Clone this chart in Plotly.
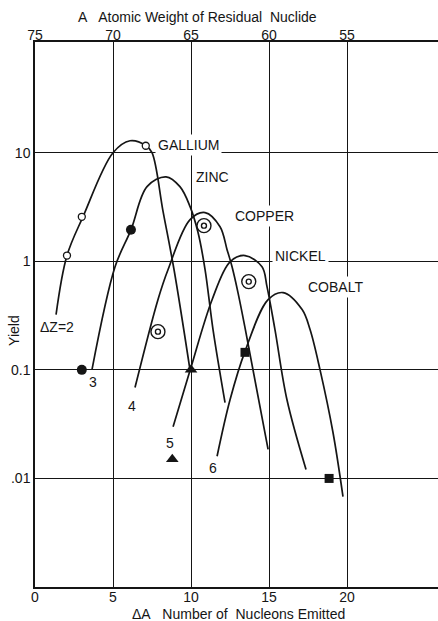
import math
import plotly.graph_objects as go

# ---- data (ΔA, yield) ----
gallium_x = [1.35, 2.05, 3.08, 5.0, 6.09, 7.12, 7.5, 8.21, 8.91, 9.94]
gallium_y = [0.323, 1.13, 2.58, 10.0, 12.9, 11.6, 10.0, 2.87, 0.84, 0.099]

zinc_x = [3.65, 5.13, 6.15, 7.18, 8.4, 9.29, 9.94, 10.45, 10.9, 11.41, 12.18]
zinc_y = [0.10, 0.89, 1.95, 4.87, 6.0, 4.87, 3.19, 1.84, 0.84, 0.235, 0.05]

copper_x = [6.41, 7.88, 8.53, 9.94, 10.9, 11.86, 12.31, 12.63, 13.01, 13.46, 14.94]
copper_y = [0.0687, 0.443, 0.84, 2.42, 2.81, 2.08, 1.28, 0.89, 0.515, 0.245, 0.0185]

nickel_x = [8.85, 9.94, 11.35, 12.5, 13.46, 14.55, 14.87, 15.38, 16.15, 17.37]
nickel_y = [0.030, 0.099, 0.443, 0.99, 1.13, 0.89, 0.585, 0.235, 0.053, 0.0121]

cobalt_x = [11.67, 12.5, 13.46, 14.94, 15.9, 17.12, 17.63, 18.27, 19.1, 19.74]
cobalt_y = [0.016, 0.053, 0.148, 0.443, 0.515, 0.359, 0.235, 0.10, 0.0265, 0.0068]

open_circle_x = [2.05, 3.0, 7.1]
open_circle_y = [1.13, 2.57, 11.6]
filled_circle_x = [3.0, 6.15]
filled_circle_y = [0.10, 1.95]
ringed_circle_x = [7.88, 10.83, 13.7]
ringed_circle_y = [0.225, 2.13, 0.65]
triangle_x = [10.0, 8.8]
triangle_y = [0.10, 0.015]
square_x = [13.46, 18.85]
square_y = [0.145, 0.010]

curve_names = ["GALLIUM", "ZINC", "COPPER", "NICKEL", "COBALT"]
curve_label_x = [7.69, 10.13, 12.63, 15.19, 17.31]
curve_label_y = [11.85, 6.0, 2.63, 1.13, 0.585]

dz_labels = ["\u0394Z=2", "3", "4", "5", "6"]
dz_label_x = [0.19, 3.72, 6.22, 8.65, 11.41]
dz_label_y = [0.25, 0.078, 0.046, 0.0214, 0.0126]
dz_anchor = ["left", "center", "center", "center", "center"]

bottom_ticks = [0, 5, 10, 15, 20]
top_ticks = [75, 70, 65, 60, 55]
y_ticks = [0.01, 0.1, 1, 10]
y_ticktext = [".01", "0.1", "1", "10"]

INK = "#151515"
FONT = "Liberation Sans"

fig = go.Figure()

for xs, ys in [(gallium_x, gallium_y), (zinc_x, zinc_y), (copper_x, copper_y),
               (nickel_x, nickel_y), (cobalt_x, cobalt_y)]:
    fig.add_trace(go.Scatter(x=xs, y=ys, mode="lines",
                             line=dict(color=INK, width=1.7, shape="spline", smoothing=1.0),
                             hoverinfo="skip", showlegend=False))

fig.add_trace(go.Scatter(x=open_circle_x, y=open_circle_y, mode="markers",
                         marker=dict(symbol="circle", size=7, color="white",
                                     line=dict(color=INK, width=1.3)),
                         showlegend=False))
fig.add_trace(go.Scatter(x=filled_circle_x, y=filled_circle_y, mode="markers",
                         marker=dict(symbol="circle", size=10, color=INK,
                                     line=dict(color=INK, width=0)),
                         showlegend=False))
fig.add_trace(go.Scatter(x=ringed_circle_x, y=ringed_circle_y, mode="markers",
                         marker=dict(symbol="circle", size=14, color="white",
                                     line=dict(color=INK, width=1.4)),
                         showlegend=False))
fig.add_trace(go.Scatter(x=ringed_circle_x, y=ringed_circle_y, mode="markers",
                         marker=dict(symbol="circle-open", size=5, color=INK,
                                     line=dict(color=INK, width=1.4)),
                         showlegend=False))
fig.add_trace(go.Scatter(x=triangle_x, y=triangle_y, mode="markers",
                         marker=dict(symbol="triangle-up", size=11, color=INK,
                                     line=dict(color=INK, width=0)),
                         showlegend=False))
fig.add_trace(go.Scatter(x=square_x, y=square_y, mode="markers",
                         marker=dict(symbol="square", size=9, color=INK,
                                     line=dict(color=INK, width=0)),
                         showlegend=False))
# invisible trace to activate the top axis
fig.add_trace(go.Scatter(x=[top_ticks[0]], y=[1], xaxis="x2", mode="markers",
                         marker=dict(opacity=0), hoverinfo="skip", showlegend=False))

for name, x, y in zip(curve_names, curve_label_x, curve_label_y):
    fig.add_annotation(x=x, y=math.log10(y), text=name, showarrow=False, xanchor="left",
                       yanchor="middle", bgcolor="white", borderpad=2,
                       font=dict(family=FONT, size=14, color=INK))
for t, x, y, a in zip(dz_labels, dz_label_x, dz_label_y, dz_anchor):
    fig.add_annotation(x=x, y=math.log10(y), text=t, showarrow=False, xanchor=a,
                       yanchor="middle", font=dict(family=FONT, size=14, color=INK))

fig.add_annotation(xref="paper", yref="paper", x=0.402, y=1.046,
                   text="A\u00a0\u00a0 Atomic Weight of Residual\u00a0 Nuclide",
                   showarrow=False, xanchor="center", yanchor="middle",
                   font=dict(family=FONT, size=14, color=INK))
fig.add_annotation(xref="paper", yref="paper", x=0.504, y=-0.049,
                   text="\u0394A\u00a0\u00a0 Number of\u00a0 Nucleons Emitted",
                   showarrow=False, xanchor="center", yanchor="middle",
                   font=dict(family=FONT, size=14, color=INK))
fig.add_annotation(xref="paper", yref="paper", x=-0.052, y=0.47,
                   text="Yield", textangle=-90,
                   showarrow=False, xanchor="center", yanchor="middle",
                   font=dict(family=FONT, size=14, color=INK))

fig.update_layout(
    width=438, height=621,
    margin=dict(l=35, r=0, t=42, b=34),
    paper_bgcolor="white", plot_bgcolor="white",
    font=dict(family=FONT, size=14, color=INK),
    xaxis=dict(range=[0, 25.83], tickvals=bottom_ticks, showgrid=True,
               gridcolor=INK, gridwidth=1.2, showline=True, linecolor=INK,
               linewidth=1.5, zeroline=False, ticks="", ticklabelstandoff=-4,
               tickfont=dict(family=FONT, size=14, color=INK)),
    xaxis2=dict(range=[75, 75 - 25.83], overlaying="x", side="top",
                tickvals=top_ticks, showgrid=False, showline=True,
                linecolor=INK, linewidth=1.5, zeroline=False, ticks="",
                ticklabelstandoff=-5,
                tickfont=dict(family=FONT, size=14, color=INK)),
    yaxis=dict(type="log", range=[-3, 2.02], tickvals=y_ticks,
               ticktext=y_ticktext, showgrid=True, gridcolor=INK, gridwidth=1.2,
               showline=True, linecolor=INK, linewidth=1.5, zeroline=False,
               ticks="", tickfont=dict(family=FONT, size=14, color=INK)),
)

fig.write_html("out.html")
